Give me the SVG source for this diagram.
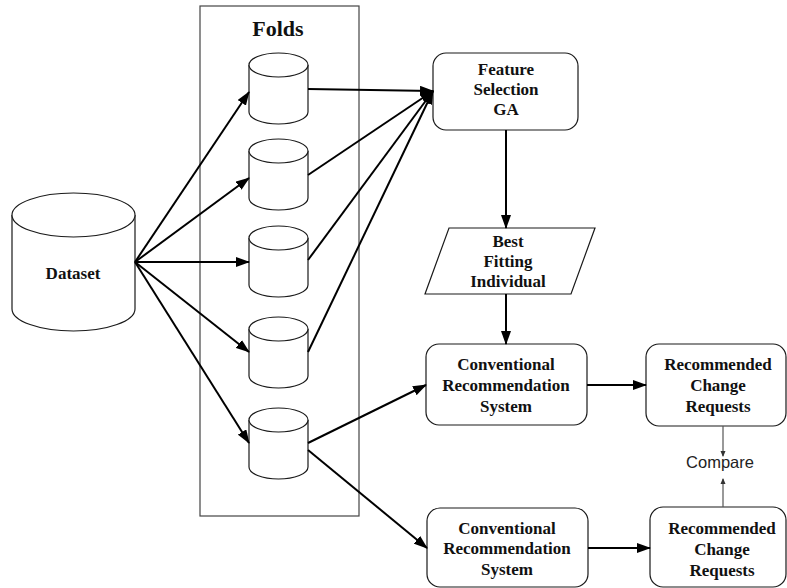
<svg xmlns="http://www.w3.org/2000/svg" width="787" height="588" viewBox="0 0 787 588">
  <style>
    .shape { fill: #ffffff; stroke: #1a1a1a; stroke-width: 1.2; }
    .frame { fill: none; stroke: #444444; stroke-width: 1.2; }
    .label { font-family: "Liberation Serif", "Times New Roman", serif; font-weight: bold; font-size: 17px; fill: #111111; text-anchor: middle; }
    .title { font-family: "Liberation Serif", "Times New Roman", serif; font-weight: bold; font-size: 22px; fill: #111111; text-anchor: middle; }
    .note { font-family: "Liberation Sans", Arial, sans-serif; font-size: 16.5px; fill: #222222; text-anchor: middle; }
    .edge { fill: none; stroke: #000000; stroke-width: 2; }
    .thin { fill: none; stroke: #555555; stroke-width: 1.2; }
  </style>
  <defs>
    <marker id="head" markerUnits="userSpaceOnUse" markerWidth="14" markerHeight="10" refX="13" refY="5" orient="auto">
      <path d="M0,0 L14,5 L0,10 Z" fill="#000000"/>
    </marker>
    <marker id="small" markerUnits="userSpaceOnUse" markerWidth="6" markerHeight="6" refX="5" refY="3" orient="auto">
      <path d="M0,0.5 L6,3 L0,5.5 Z" fill="#333333"/>
    </marker>
  </defs>

  <!-- Folds container -->
  <g id="folds-frame">
    <rect class="frame" x="200" y="6" width="159" height="510"/>
    <text class="title" x="278" y="36">Folds</text>
  </g>

  <!-- Dataset cylinder -->
  <g id="dataset">
    <path class="shape" d="M12,215 A61.5,22 0 0 1 135,215 L135,309 A61.5,22 0 0 1 12,309 Z"/>
    <path class="shape" fill="none" d="M12,215 A61.5,22 0 0 0 135,215"/>
    <text class="label" x="73" y="279">Dataset</text>
  </g>

  <!-- Fold cylinders -->
  <g id="fold1">
    <path class="shape" d="M249,65 A29.5,12 0 0 1 308,65 L308,112 A29.5,12 0 0 1 249,112 Z"/>
    <path class="shape" d="M249,65 A29.5,12 0 0 0 308,65"/>
  </g>
  <g id="fold2">
    <path class="shape" d="M249,151 A29.5,12 0 0 1 308,151 L308,198 A29.5,12 0 0 1 249,198 Z"/>
    <path class="shape" d="M249,151 A29.5,12 0 0 0 308,151"/>
  </g>
  <g id="fold3">
    <path class="shape" d="M249,238 A29.5,12 0 0 1 308,238 L308,285 A29.5,12 0 0 1 249,285 Z"/>
    <path class="shape" d="M249,238 A29.5,12 0 0 0 308,238"/>
  </g>
  <g id="fold4">
    <path class="shape" d="M249,329 A29.5,12 0 0 1 308,329 L308,376 A29.5,12 0 0 1 249,376 Z"/>
    <path class="shape" d="M249,329 A29.5,12 0 0 0 308,329"/>
  </g>
  <g id="fold5">
    <path class="shape" d="M249,420 A29.5,12 0 0 1 308,420 L308,467 A29.5,12 0 0 1 249,467 Z"/>
    <path class="shape" d="M249,420 A29.5,12 0 0 0 308,420"/>
  </g>

  <!-- Feature selection -->
  <g id="feature-selection">
    <rect class="shape" x="433" y="53" width="145" height="77" rx="13"/>
    <text class="label" x="506" y="75" font-size="16">Feature</text>
    <text class="label" x="506" y="95" font-size="16">Selection</text>
    <text class="label" x="506" y="115" font-size="16">GA</text>
  </g>

  <!-- Best fitting individual -->
  <g id="best-fitting">
    <path class="shape" d="M449,228 L595,228 L571,294 L425,294 Z"/>
    <text class="label" x="508" y="247">Best</text>
    <text class="label" x="508" y="267">Fitting</text>
    <text class="label" x="508" y="287">Individual</text>
  </g>

  <!-- Recommendation systems -->
  <g id="crs-ga">
    <rect class="shape" x="426" y="344" width="161" height="81" rx="13"/>
    <text class="label" x="506" y="370">Conventional</text>
    <text class="label" x="506" y="391">Recommendation</text>
    <text class="label" x="506" y="412">System</text>
  </g>
  <g id="crs-plain">
    <rect class="shape" x="427" y="508" width="161" height="79" rx="13"/>
    <text class="label" x="507" y="534">Conventional</text>
    <text class="label" x="507" y="554">Recommendation</text>
    <text class="label" x="507" y="575">System</text>
  </g>

  <!-- Recommended change requests -->
  <g id="rcr-ga">
    <rect class="shape" x="646" y="344" width="140" height="82" rx="13"/>
    <text class="label" x="718" y="370">Recommended</text>
    <text class="label" x="718" y="391">Change</text>
    <text class="label" x="718" y="412">Requests</text>
  </g>
  <g id="rcr-plain">
    <rect class="shape" x="650" y="507" width="136" height="80" rx="13"/>
    <text class="label" x="722" y="534">Recommended</text>
    <text class="label" x="722" y="555">Change</text>
    <text class="label" x="722" y="576">Requests</text>
  </g>

  <g id="compare">
    <text class="note" x="720" y="468">Compare</text>
  </g>

  <!-- Connectors -->
  <g id="connectors">
    <line class="edge" x1="135" y1="262" x2="249" y2="92" marker-end="url(#head)"/>
    <line class="edge" x1="135" y1="262" x2="249" y2="178" marker-end="url(#head)"/>
    <line class="edge" x1="135" y1="262" x2="249" y2="262" marker-end="url(#head)"/>
    <line class="edge" x1="135" y1="262" x2="249" y2="352" marker-end="url(#head)"/>
    <line class="edge" x1="135" y1="262" x2="249" y2="443" marker-end="url(#head)"/>

    <line class="edge" x1="308" y1="89" x2="433" y2="91" marker-end="url(#head)"/>
    <line class="edge" x1="308" y1="175" x2="433" y2="91" marker-end="url(#head)"/>
    <line class="edge" x1="308" y1="260" x2="433" y2="91" marker-end="url(#head)"/>
    <line class="edge" x1="308" y1="352" x2="433" y2="91" marker-end="url(#head)"/>

    <line class="edge" x1="506" y1="130" x2="506" y2="228" marker-end="url(#head)"/>
    <line class="edge" x1="506" y1="294" x2="506" y2="344" marker-end="url(#head)"/>

    <line class="edge" x1="308" y1="443" x2="426" y2="385" marker-end="url(#head)"/>
    <line class="edge" x1="308" y1="450" x2="427" y2="548" marker-end="url(#head)"/>

    <line class="edge" x1="587" y1="385" x2="646" y2="385" marker-end="url(#head)"/>
    <line class="edge" x1="588" y1="548" x2="650" y2="548" marker-end="url(#head)"/>

    <line class="thin" x1="723" y1="426" x2="723" y2="456" marker-end="url(#small)"/>
    <line class="thin" x1="723" y1="507" x2="723" y2="479" marker-end="url(#small)"/>
  </g>
</svg>
